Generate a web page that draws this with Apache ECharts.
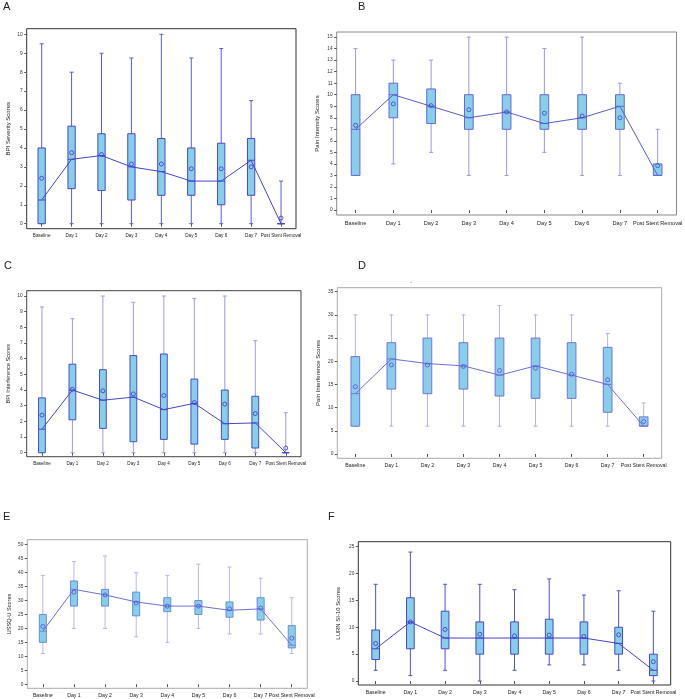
<!DOCTYPE html>
<html><head><meta charset="utf-8">
<script src="https://cdn.jsdelivr.net/npm/echarts@6/dist/echarts.min.js"></script>
<style>html,body{margin:0;padding:0;background:#fff}#c{width:685px;height:699px}</style>
</head><body><div id="c"></div>
<script>
const categories = ['Baseline','Day 1','Day 2','Day 3','Day 4','Day 5','Day 6','Day 7','Post Stent Removal'];

// A: BPI Severity
const A_low  = [0,0,0,0,0,0,0,0,0];
const A_q1   = [0,1.85,1.75,1.25,1.5,1.5,1,1.5,0];
const A_med  = [1.25,3.4,3.6,3,2.75,2.25,2.25,3.35,0];
const A_q3   = [4,5.15,4.75,4.75,4.5,4,4.25,4.5,0];
const A_high = [9.5,8,9,8.75,10,8.75,9.25,6.5,2.25];
const A_mean = [2.4,3.75,3.65,3.15,3.15,2.9,2.9,3,0.3];
const A_ticks = [0,1,2,3,4,5,6,7,8,9,10];

// B: Pain Intensity
const B_low  = [3,4,5,3,3,5,3,3,3];
const B_q1   = [3,8,7.5,7,7,7,7,7,3];
const B_med  = [7,10,9,8,8.5,7.5,8,9,3];
const B_q3   = [10,11,10.5,10,10,10,10,10,4];
const B_high = [14,13,13,15,15,14,15,11,7];
const B_mean = [7.35,9.2,9.05,8.7,8.5,8.4,8.15,8,3.85];
const B_ticks = [0,1,2,3,4,5,6,7,8,9,10,11,12,13,14,15];

// C: BPI Interference
const C_low  = [0,0,0,0,0,0,0,0,0];
const C_q1   = [0,2.1,1.55,0.7,0.85,0.55,0.85,0.3,0];
const C_med  = [1.5,4,3.35,3.55,2.75,3.15,1.85,1.9,0];
const C_q3   = [3.5,5.65,5.3,6.2,6.3,4.7,4,3.6,0];
const C_high = [9.3,8.55,10,9.6,10,9.85,10,7.15,2.55];
const C_mean = [2.4,4.05,3.95,3.75,3.65,3.2,3.1,2.5,0.3];
const C_ticks = [0,1,2,3,4,5,6,7,8,9,10];

// D: Pain Interference
const D_low  = [6,6,6,6,6,6,6,6,6];
const D_q1   = [6,14,13,14,12.5,12,12,9,6];
const D_med  = [13,20.5,19.5,19,17,19,17,15,6];
const D_q3   = [21,24,25,24,25,25,24,23,8];
const D_high = [30,30,30,30,32,30,30,26,11];
const D_mean = [14.5,19.2,19.2,18.9,18,18.5,17.2,16,7];
const D_ticks = [0,5,10,15,20,25,30,35];

// E: USSQ-U
const E_low  = [11,20,20,17,15,20,18,18,11];
const E_q1   = [15,28,28,24.5,26,25,24,23,13];
const E_med  = [19,34,32,29.5,28,28,26.5,27,14];
const E_q3   = [25,37,34,33,31,30,29.5,31,21];
const E_high = [39,44,46,40,39,43,42,38,31];
const E_mean = [20.7,33,32,29.1,28,28,27,27.3,16.5];
const E_ticks = [0,5,10,15,20,25,30,35,40,45,50];

// F: LURN SI-10
const F_low  = [2,1,2,0,2,3,3,2,0];
const F_q1   = [4,6,6,5,5,5,5,5,1];
const F_med  = [6,11,8,8,8,8,8,7,2];
const F_q3   = [9.5,15.5,13,11,11,11.5,11,10,5];
const F_high = [18,24,18,18,17,19,16,16.8,13];
const F_mean = [7,11,9.6,8.7,8.4,8.55,8.3,8.6,3.6];
const F_ticks = [0,5,10,15,20,25];

const panels = [
  {label:'A', name:'BPI Severity Scores', low:A_low,q1:A_q1,med:A_med,q3:A_q3,high:A_high,mean:A_mean,ticks:A_ticks,
   grid:{left:26.7,top:28.7,width:269.3,height:200}, min:-0.264, max:10.296, nameGap:15,
   frame:'#333', whisker:'#5b5bd6', border:'#4848c8', line:'#4646c8', meanC:'#3434cc', boxW:7.3, catFont:4.6, nameFont:6, lblPos:[3,1]},
  {label:'B', name:'Pain Intensity Scores', low:B_low,q1:B_q1,med:B_med,q3:B_q3,high:B_high,mean:B_mean,ticks:B_ticks,
   grid:{left:336.7,top:32,width:346.3,height:183}, min:-0.434, max:15.44, nameGap:16,
   frame:'#8a8a8a', whisker:'#9898e0', border:'#6868d4', line:'#5a5ad0', meanC:'#4040cc', boxW:8.7, catFont:5.6, nameFont:6, lblPos:[358,1]},
  {label:'C', name:'BPI Interference Scores', low:C_low,q1:C_q1,med:C_med,q3:C_q3,high:C_high,mean:C_mean,ticks:C_ticks,
   grid:{left:26.7,top:290.7,width:274.3,height:166}, min:-0.255, max:10.34, nameGap:15,
   frame:'#444', whisker:'#9c9ce0', border:'#4c4cc8', line:'#4646c8', meanC:'#3434cc', boxW:6.8, catFont:4.6, nameFont:5.6, lblPos:[4,260]},
  {label:'D', name:'Pain Interference Scores', low:D_low,q1:D_q1,med:D_med,q3:D_q3,high:D_high,mean:D_mean,ticks:D_ticks,
   grid:{left:337.3,top:287.7,width:324.4,height:170.6}, min:-0.93, max:35.86, nameGap:16,
   frame:'#aaa', whisker:'#b2b2e4', border:'#7474d8', line:'#7070d8', meanC:'#5050d0', boxW:8.7, catFont:5.2, nameFont:6, lblPos:[358,260]},
  {label:'E', name:'USSQ-U Scores', low:E_low,q1:E_q1,med:E_med,q3:E_q3,high:E_high,mean:E_mean,ticks:E_ticks,
   grid:{left:27.3,top:539.7,width:280,height:148.6}, min:-1.47, max:51.8, nameGap:15,
   frame:'#aaa', whisker:'#b8b8e6', border:'#6c8cd8', line:'#7070d8', meanC:'#5050d0', boxW:7, catFont:5.2, nameFont:5.6, lblPos:[3,511]},
  {label:'F', name:'LURN SI-10 Scores', low:F_low,q1:F_q1,med:F_med,q3:F_q3,high:F_high,mean:F_mean,ticks:F_ticks,
   grid:{left:358.3,top:541.7,width:312.4,height:143.3}, min:-0.74, max:25.93, nameGap:17,
   frame:'#333', whisker:'#5050d0', border:'#4848cc', line:'#4646c8', meanC:'#3434cc', boxW:7.7, catFont:5.2, nameFont:6, lblPos:[328,511]}
];

const FONT = 'Liberation Sans, Arial, sans-serif';
const grids = [], xAxes = [], yAxes = [], series = [], graphics = [];

panels.forEach((p, k) => {
  grids.push(Object.assign({show:true, borderColor:p.frame, borderWidth:1, backgroundColor:'transparent', containLabel:false}, p.grid));
  xAxes.push({type:'category', gridIndex:k, data:categories, boundaryGap:true,
    axisLine:{show:false}, splitLine:{show:false},
    axisTick:{show:true, alignWithLabel:true, length:3, lineStyle:{color:'#555', width:1}},
    axisLabel:{interval:0, fontSize:p.catFont, color:'#222', margin:5, fontFamily:FONT}});
  yAxes.push({type:'value', gridIndex:k, min:p.min, max:p.max,
    name:p.name, nameLocation:'middle', nameGap:p.nameGap, nameRotate:90,
    nameTextStyle:{fontSize:p.nameFont, color:'#222', fontFamily:FONT},
    axisLine:{show:false}, splitLine:{show:false},
    axisTick:{show:true, length:2.5, customValues:p.ticks, lineStyle:{color:'#555'}},
    axisLabel:{fontSize:4.8, color:'#333', margin:4, customValues:p.ticks, fontFamily:FONT}});
  const boxData = categories.map((c,i) => [i, p.low[i], p.q1[i], p.med[i], p.q3[i], p.high[i]]);
  series.push({type:'custom', xAxisIndex:k, yAxisIndex:k, data:boxData, encode:{x:0, y:[1,2,3,4,5]}, z:2,
    renderItem:function(params, api){
      const i = api.value(0);
      const lo = api.coord([i, api.value(1)]);
      const q1 = api.coord([i, api.value(2)]);
      const md = api.coord([i, api.value(3)]);
      const q3 = api.coord([i, api.value(4)]);
      const hi = api.coord([i, api.value(5)]);
      const cx = lo[0], bw = p.boxW, cw = 4;
      const ws = {stroke:p.whisker, lineWidth:1};
      return {type:'group', children:[
        {type:'line', shape:{x1:cx,y1:hi[1],x2:cx,y2:lo[1]}, style:ws},
        {type:'line', shape:{x1:cx-cw/2,y1:hi[1],x2:cx+cw/2,y2:hi[1]}, style:ws},
        {type:'line', shape:{x1:cx-cw/2,y1:lo[1],x2:cx+cw/2,y2:lo[1]}, style:ws},
        {type:'rect', shape:{x:cx-bw/2, y:q3[1], width:bw, height:q1[1]-q3[1]}, style:{fill:'#87CEEB', stroke:p.border, lineWidth:1}},
        {type:'line', shape:{x1:cx-bw/2,y1:md[1],x2:cx+bw/2,y2:md[1]}, style:{stroke:p.border, lineWidth:1}}
      ]};
    }});
  series.push({type:'line', xAxisIndex:k, yAxisIndex:k, data:p.med, symbol:'none', z:3,
    lineStyle:{color:p.line, width:1}, silent:true});
  series.push({type:'scatter', xAxisIndex:k, yAxisIndex:k, data:p.mean, symbol:'circle', symbolSize:4, z:4,
    itemStyle:{color:'rgba(0,0,0,0)', borderColor:p.meanC, borderWidth:1}});
  graphics.push({type:'text', left:p.lblPos[0], top:p.lblPos[1], style:{text:p.label, fontSize:11, fill:'#222', fontFamily:FONT}});
});
graphics.push({type:'text', left:410, top:279, style:{text:'-', fontSize:6, fill:'#666', fontFamily:FONT}});

const chart = echarts.init(document.getElementById('c'));
chart.setOption({animation:false, backgroundColor:'#fff', grid:grids, xAxis:xAxes, yAxis:yAxes, series:series, graphic:graphics});
</script></body></html>
